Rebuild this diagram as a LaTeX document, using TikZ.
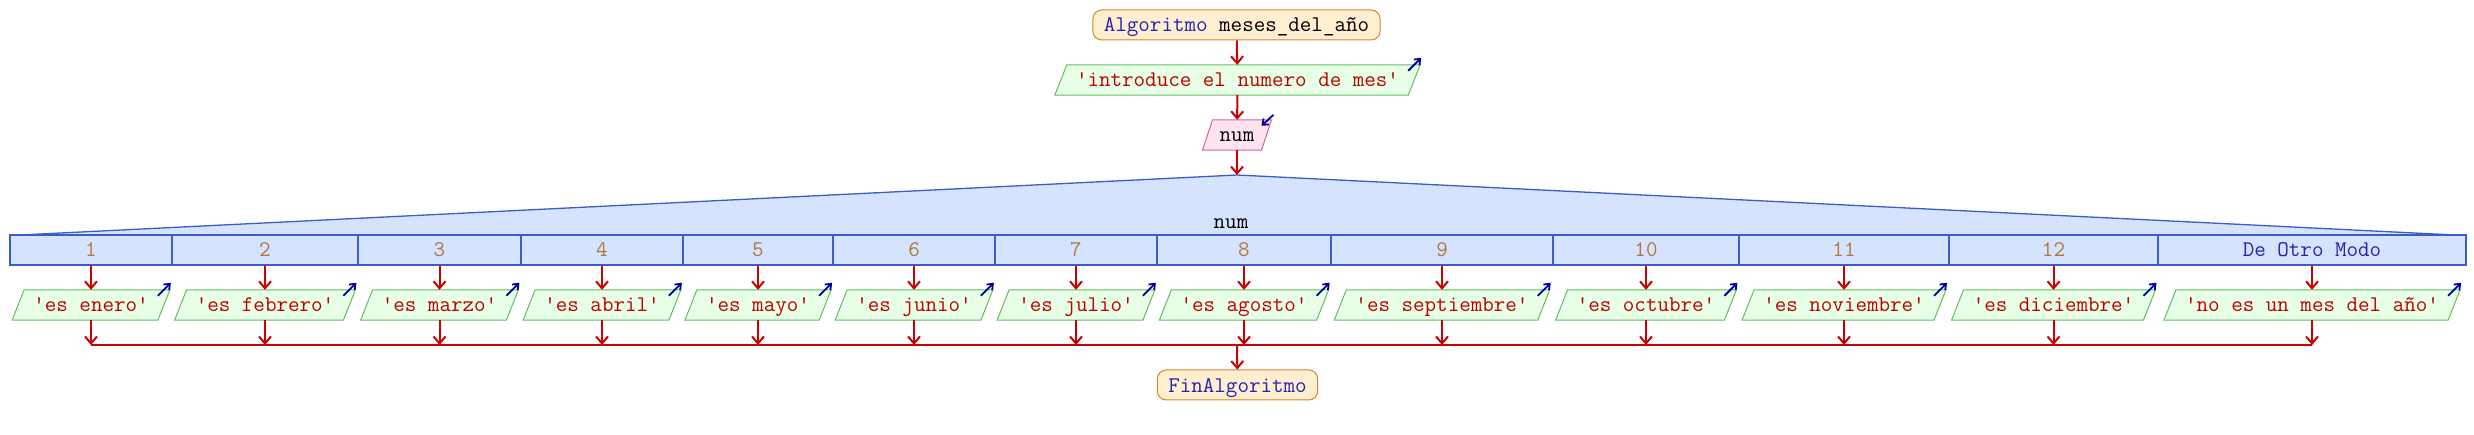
\documentclass[tikz,border=0pt]{standalone}
\usepackage{fontspec}
\usetikzlibrary{arrows.meta,backgrounds}
\definecolor{flowc}{HTML}{CC0000}
\definecolor{ioarr}{HTML}{000099}
\definecolor{termf}{HTML}{FFEFD0}
\definecolor{termb}{HTML}{CC8833}
\definecolor{outf}{HTML}{E6FFE6}
\definecolor{outb}{HTML}{66BB66}
\definecolor{inf}{HTML}{FFE3F0}
\definecolor{inb}{HTML}{CC6699}
\definecolor{casef}{HTML}{D6E3FF}
\definecolor{caseb}{HTML}{3C5CC8}
\definecolor{strcol}{HTML}{C00000}
\definecolor{numcol}{HTML}{B07838}
\definecolor{kwcol}{HTML}{2424B0}
\tikzset{
  basetxt/.style={font=\ttfamily\fontsize{22.4}{23}\selectfont, text height=16pt, text depth=2pt, minimum height=30pt, inner ysep=0pt},
  terminal/.style={basetxt, draw=termb, fill=termf, line width=1pt, rounded corners=9pt, inner xsep=11pt},
  outtxt/.style={basetxt, text=strcol, inner xsep=15pt},
  intxt/.style={basetxt, inner xsep=12pt},
  cell/.style={basetxt, draw=caseb, fill=casef, line width=1.2pt, inner xsep=0pt},
  flow/.style={draw=flowc, line width=2pt, -{Straight Barb[length=7pt,width=12pt,line width=2pt]}},
  flowline/.style={draw=flowc, line width=2pt},
  ioarrow/.style={draw=ioarr, line width=1.8pt, -{Straight Barb[length=5pt,width=8pt]}},
  paraout/.style={draw=outb, fill=outf, line width=1pt},
  parain/.style={draw=inb, fill=inf, line width=1pt},
}
\begin{document}
\begin{tikzpicture}[x=1pt,y=-1pt]
\useasboundingbox (0,0) rectangle (2474,435);

% switch header triangle
\coordinate (tl) at (20,235);
\coordinate (apex) at (1237,175);
\coordinate (tr) at (2455,235);
\path[fill=casef] (tl) -- (apex) -- (tr) -- cycle;
\draw[caseb, line width=1.3pt] (tl) -- (apex) -- (tr);
\node[basetxt] (swlab) at (1231,222) {num};

% top nodes
\node[terminal] (start) at (1236.5,25) {\textcolor{kwcol}{Algoritmo} meses\_del\_año};
\node[outtxt] (intro) at (1237.5,80) {'introduce el numero de mes'};
\node[intxt] (num) at (1237,135) {num};

% case cells and outputs
\foreach \i/\x/\w/\lab/\txt in {
  1/91/162/1/'es enero',
  2/265/186/2/'es febrero',
  3/439.5/163/3/'es marzo',
  4/602/162/4/'es abril',
  5/758/150/5/'es mayo',
  6/914/162/6/'es junio',
  7/1076/162/7/'es julio',
  8/1244/174/8/'es agosto',
  9/1442/222/9/'es septiembre',
  10/1646/186/10/'es octubre',
  11/1844/210/11/'es noviembre',
  12/2053.5/209/12/'es diciembre'}{
  \node[cell, minimum width=\w pt, text=numcol] (c\i) at (\x,250) {\lab};
  \node[outtxt] (o\i) at (\x,305) {\txt};
  \coordinate (m\i) at (\x,345);
}
\node[cell, minimum width=308pt, text=kwcol] (c13) at (2312,250) {De Otro Modo};
\node[outtxt] (o13) at (2312,305) {'no es un mes del año'};
\coordinate (m13) at (2312,345);
\coordinate (mfin) at (1237,345);

\node[terminal] (fin) at (1237.5,385) {\textcolor{kwcol}{FinAlgoritmo}};

% parallelogram outlines behind the texts
\begin{scope}[on background layer]
  \foreach \nm in {intro,o1,o2,o3,o4,o5,o6,o7,o8,o9,o10,o11,o12,o13}{
    \path[paraout] ([xshift=-6pt]\nm.south west) -- ([xshift=-6pt]\nm.south east)
      -- ([xshift=6pt]\nm.north east) -- ([xshift=6pt]\nm.north west) -- cycle;
  }
  \path[parain] ([xshift=-5pt]num.south west) -- ([xshift=-5pt]num.south east)
      -- ([xshift=5pt]num.north east) -- ([xshift=5pt]num.north west) -- cycle;
\end{scope}

% io markers
\foreach \nm in {intro,o1,o2,o3,o4,o5,o6,o7,o8,o9,o10,o11,o12,o13}{
  \draw[ioarrow] ([shift={(-6,6)}]\nm.north east) -- ([shift={(7,-7)}]\nm.north east);
}
\draw[ioarrow] ([shift={(7,-5)}]num.north east) -- ([shift={(-5,6)}]num.north east);

% flow
\draw[flow] (start) -- (intro);
\draw[flow] (intro) -- (num);
\draw[flow] (num) -- (apex);
\foreach \i in {1,...,13}{
  \draw[flow] (c\i) -- (o\i);
  \draw[flow] (o\i) -- (m\i);
}
\draw[flowline] (m1) -- (m13);
\draw[flow] (mfin) -- (fin);
\end{tikzpicture}
\end{document}
